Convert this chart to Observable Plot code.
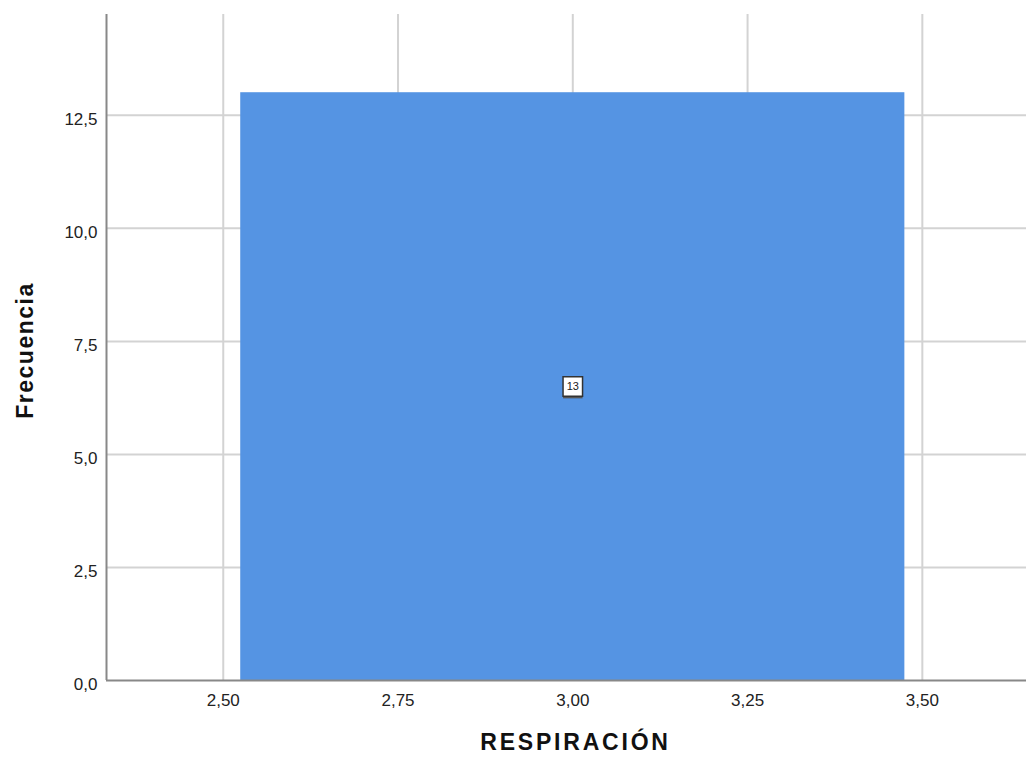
<!DOCTYPE html>
<html><head><meta charset="utf-8">
<script src="https://cdn.jsdelivr.net/npm/d3@7"></script>
<script src="https://cdn.jsdelivr.net/npm/@observablehq/plot@0.6"></script>
<style>body{margin:0;background:#fff;}</style>
</head><body><div id="chart"></div>
<script>
const binStart = [2.525];
const binEnd = [3.475];
const counts = [13];
const xTicks = [2.5, 2.75, 3.0, 3.25, 3.5];
const yTicks = [0, 2.5, 5, 7.5, 10, 12.5];
const xDomain = [2.333, 3.649];
const yDomain = [0, 14.73];
const xLabel = "RESPIRACIÓN";
const yLabel = "Frecuencia";

const bins = binStart.map((s, i) => ({x1: s, x2: binEnd[i], count: counts[i]}));
const comma = f => v => d3.format(f)(v).replace(".", ",");
const midX = d => (d.x1 + d.x2) / 2;
const midY = d => d.count / 2;

const chart = Plot.plot({
  width: 1026, height: 759,
  marginLeft: 106, marginRight: 0, marginTop: 14, marginBottom: 79,
  style: {fontFamily: "'Liberation Sans', Arial, sans-serif", background: "#fff", color: "#222"},
  x: {domain: xDomain},
  y: {domain: yDomain},
  marks: [
    Plot.gridX(xTicks, {stroke: "#d3d3d3", strokeOpacity: 1, strokeWidth: 2}),
    Plot.gridY(yTicks.filter(d => d > 0), {stroke: "#d3d3d3", strokeOpacity: 1, strokeWidth: 2}),
    Plot.rectY(bins, {x1: "x1", x2: "x2", y: "count", fill: "#5594E3"}),
    Plot.ruleX([xDomain[0]], {stroke: "#888", strokeWidth: 2}),
    Plot.ruleY([0], {stroke: "#888", strokeWidth: 2}),
    Plot.axisX({ticks: xTicks, tickFormat: comma(".2f"), tickSize: 0, tickPadding: 13, fontSize: 17, label: null}),
    Plot.axisY({ticks: yTicks, tickFormat: comma(".1f"), tickSize: 0, tickPadding: 9, fontSize: 17, dy: 4, label: null}),
    Plot.dot(bins, {x: midX, y: midY, symbol: "square", r: 11, fill: "#555", dy: 2}),
    Plot.dot(bins, {x: midX, y: midY, symbol: "square", r: 11, fill: "#fff", stroke: "#333", strokeWidth: 1.5}),
    Plot.text(bins, {x: midX, y: midY, text: d => String(d.count), fontSize: 11, fill: "#222"}),
    Plot.text([yLabel], {frameAnchor: "left", textAnchor: "middle", dx: -81, dy: 3, rotate: -90, fontSize: 23, fontWeight: "bold", fill: "#111"}),
    Plot.text([xLabel], {frameAnchor: "bottom", textAnchor: "middle", dx: 9, dy: 69, fontSize: 23, fontWeight: "bold", fill: "#111"})
  ]
});
d3.select(chart).selectAll("text").each(function() {
  const t = this.textContent;
  if (t === xLabel) this.style.letterSpacing = "2.8px";
  if (t === yLabel) this.style.letterSpacing = "1.5px";
});
document.getElementById("chart").appendChild(chart);
</script>
</body></html>
